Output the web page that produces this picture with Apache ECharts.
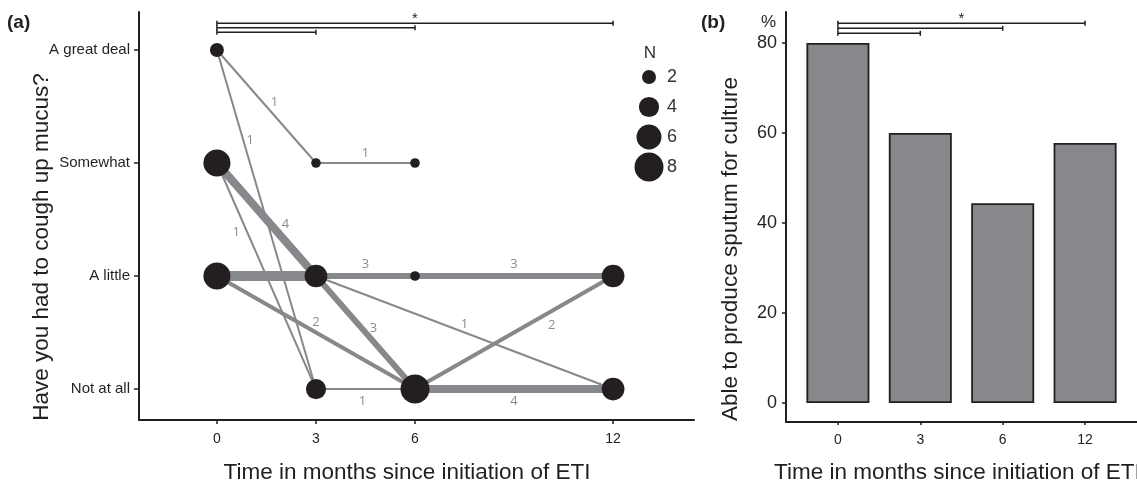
<!DOCTYPE html>
<html><head><meta charset="utf-8">
<script src="https://cdn.jsdelivr.net/npm/echarts@6/dist/echarts.min.js"></script>
<style>html,body{margin:0;padding:0;background:#fff}#c{width:1137px;height:485px}</style>
</head><body><div id="c"></div>
<script>
// ---------- DATA ----------
const levels = ['Not at all', 'A little', 'Somewhat', 'A great deal'];
const months = [0, 3, 6, 12];
// panel (a) nodes
const nodeMonth = [0, 0, 0, 3, 3, 3, 6, 6, 6, 12, 12];
const nodeLevel = ['A great deal', 'Somewhat', 'A little', 'Somewhat', 'A little', 'Not at all', 'Somewhat', 'A little', 'Not at all', 'A little', 'Not at all'];
const nodeN = [2, 7, 7, 1, 5, 4, 1, 1, 8, 5, 5];
// panel (a) transitions
const edgeFromMonth = [0, 0, 0, 0, 0, 0, 3, 3, 6, 3, 3, 6, 3, 6];
const edgeFromLevel = ['A great deal', 'A great deal', 'Somewhat', 'Somewhat', 'A little', 'A little', 'Somewhat', 'A little', 'A little', 'A little', 'A little', 'Not at all', 'Not at all', 'Not at all'];
const edgeToMonth = [3, 3, 3, 3, 3, 6, 6, 6, 12, 6, 12, 12, 6, 12];
const edgeToLevel = ['Somewhat', 'Not at all', 'A little', 'Not at all', 'A little', 'Not at all', 'Somewhat', 'A little', 'A little', 'Not at all', 'Not at all', 'A little', 'Not at all', 'Not at all'];
const edgeN = [1, 1, 4, 1, 5, 2, 1, 3, 3, 3, 1, 2, 1, 4];
const edgeLabelShown = [true, true, true, true, false, true, true, true, true, true, true, true, true, true];
// legend values
const legendN = [2, 4, 6, 8];
// panel (b)
const sputumPct = [80, 60, 44.4, 57.8];
// significance comparisons (month pairs)
const sigPairs = [[0, 12], [0, 6], [0, 3]];
const sigLabel = '*';

// ---------- STYLE ----------
const INK = '#231f20';
const GREY = '#87888b';
const LABEL_GREY = '#8d8d8d';
const FONT = 'Liberation Sans, Arial, sans-serif';
// label placement along each edge (fraction t, pixel dx, dy)
const edgeLabelT = [0.5, 0.265, 0.54, 0.305, 0.5, 0.5, 0.5, 0.5, 0.5, 0.5, 0.5, 0.69, 0.5, 0.5];
const edgeLabelDx = [8, 7, 15, -11, 0, 0, 0, 0, 0, 8, 0, 0, -3, 0];
const edgeLabelDy = [-4, 0, 0, 0, 0, -10, -10, -12, -12, -4, -8, 14, 12, 12];
const sigOffsetsA = [11.3, 15.7, 20.3];
const sigOffsetsB = [11.3, 16.3, 21.3];

function nodeSize(n) { return 10.6 * Math.sqrt(n) - 1; }
function edgeWidth(n) { return 2 * n; }
function lv(name) { return levels.indexOf(name) + 1; }

const nodeData = nodeMonth.map((m, i) => [m, lv(nodeLevel[i]), nodeN[i]]);
const edgeData = edgeFromMonth.map((m, i) => [m, lv(edgeFromLevel[i]), edgeToMonth[i], lv(edgeToLevel[i]), edgeN[i]]);
const barData = sputumPct.map((v, i) => [i, v]);
const sigDataA = sigPairs.map(p => [p[0], p[1]]);
const sigDataB = sigPairs.map(p => [months.indexOf(p[0]), months.indexOf(p[1])]);

function sigRender(offsets) {
  return function (params, api) {
    const i = params.dataIndex;
    const cs = params.coordSys;
    const y = cs.y + offsets[i];
    const x1 = api.coord([api.value(0), 0])[0];
    const x2 = api.coord([api.value(1), 0])[0];
    const st = { stroke: INK, lineWidth: 1.5 };
    const ch = [
      { type: 'line', shape: { x1: x1, y1: y, x2: x2, y2: y }, style: st },
      { type: 'line', shape: { x1: x1, y1: y - 2.5, x2: x1, y2: y + 2.5 }, style: st },
      { type: 'line', shape: { x1: x2, y1: y - 2.5, x2: x2, y2: y + 2.5 }, style: st }
    ];
    if (i === 0) {
      ch.push({ type: 'text', x: (x1 + x2) / 2, y: y + 3,
        style: { text: sigLabel, fill: INK, font: '15px ' + FONT, textAlign: 'center', textVerticalAlign: 'bottom' } });
    }
    return { type: 'group', children: ch };
  };
}

const chart = echarts.init(document.getElementById('c'), null, { renderer: 'canvas' });

const axisLineStyle = { show: true, onZero: false, lineStyle: { color: INK, width: 2 } };
const TITLE_FONT = '22.5px ' + FONT;

const graphics = [
  { type: 'text', left: 7, top: 13, style: { text: '(a)', font: 'bold 19px ' + FONT, fill: INK } },
  { type: 'text', left: 701, top: 13, style: { text: '(b)', font: 'bold 19px ' + FONT, fill: INK } },
  { type: 'text', x: 776, y: 22, style: { text: '%', font: '17px ' + FONT, fill: INK, textAlign: 'right', textVerticalAlign: 'middle' } },
  { type: 'text', x: 407, y: 473, style: { text: 'Time in months since initiation of ETI', font: TITLE_FONT, fill: INK, textAlign: 'center', textVerticalAlign: 'middle' } },
  { type: 'text', x: 774, y: 473, style: { text: 'Time in months since initiation of ETI', font: TITLE_FONT, fill: INK, textAlign: 'left', textVerticalAlign: 'middle' } },
  { type: 'text', x: 42, y: 247, rotation: Math.PI / 2, style: { text: 'Have you had to cough up mucus?', font: TITLE_FONT, fill: INK, textAlign: 'center', textVerticalAlign: 'middle' } },
  { type: 'text', x: 731, y: 249, rotation: Math.PI / 2, style: { text: 'Able to produce sputum for culture', font: TITLE_FONT, fill: INK, textAlign: 'center', textVerticalAlign: 'middle' } },
  { type: 'text', x: 650, y: 53, style: { text: 'N', font: '17px ' + FONT, fill: '#333', textAlign: 'center', textVerticalAlign: 'middle' } }
];
const legendY = [77, 107, 137, 167];
legendN.forEach((n, i) => {
  graphics.push({ type: 'circle', shape: { cx: 649, cy: legendY[i], r: nodeSize(n) / 2 }, style: { fill: INK } });
  graphics.push({ type: 'text', x: 667, y: legendY[i], style: { text: String(n), font: '18px ' + FONT, fill: '#333', textVerticalAlign: 'middle' } });
});

chart.setOption({
  animation: false,
  backgroundColor: '#fff',
  grid: [
    { left: 139, top: 12, width: 555, height: 408 },
    { left: 786, top: 12, width: 357, height: 410 }
  ],
  xAxis: [
    { type: 'value', gridIndex: 0, min: -2.36, max: 14.45, splitLine: { show: false },
      axisLine: axisLineStyle,
      axisTick: { show: true, customValues: months, length: 4, lineStyle: { color: INK, width: 1.5 } },
      axisLabel: { customValues: months, fontSize: 14, fontFamily: FONT, color: INK, margin: 12 } },
    { type: 'value', gridIndex: 1, min: -0.63, max: 3.63, splitLine: { show: false },
      axisLine: axisLineStyle,
      axisTick: { show: true, customValues: [0, 1, 2, 3], length: 3, lineStyle: { color: INK, width: 1.5 } },
      axisLabel: { customValues: [0, 1, 2, 3], formatter: v => String(months[Math.round(v)]), fontSize: 14, fontFamily: FONT, color: INK, margin: 11 } }
  ],
  yAxis: [
    { type: 'value', gridIndex: 0, min: 0.726, max: 4.336, splitLine: { show: false },
      axisLine: axisLineStyle,
      axisTick: { show: true, customValues: [1, 2, 3, 4], length: 5, lineStyle: { color: INK, width: 1.5 } },
      axisLabel: { customValues: [1, 2, 3, 4], formatter: v => levels[Math.round(v) - 1], fontSize: 15, fontFamily: FONT, color: INK, margin: 9 } },
    { type: 'value', gridIndex: 1, min: -4.2, max: 86.9, splitLine: { show: false },
      axisLine: axisLineStyle,
      axisTick: { show: true, customValues: [0, 20, 40, 60, 80], length: 4, lineStyle: { color: INK, width: 1.5 } },
      axisLabel: { customValues: [0, 20, 40, 60, 80], fontSize: 18, fontFamily: FONT, color: INK, margin: 9 } }
  ],
  series: [
    { type: 'custom', xAxisIndex: 0, yAxisIndex: 0, data: edgeData, z: 2, clip: false,
      renderItem: function (params, api) {
        const i = params.dataIndex;
        const p1 = api.coord([api.value(0), api.value(1)]);
        const p2 = api.coord([api.value(2), api.value(3)]);
        const ch = [{ type: 'line', shape: { x1: p1[0], y1: p1[1], x2: p2[0], y2: p2[1] },
          style: { stroke: GREY, lineWidth: edgeWidth(api.value(4)) } }];
        if (edgeLabelShown[i]) {
          const t = edgeLabelT[i];
          ch.push({ type: 'text', x: p1[0] + (p2[0] - p1[0]) * t + edgeLabelDx[i], y: p1[1] + (p2[1] - p1[1]) * t + edgeLabelDy[i],
            style: { text: String(api.value(4)), fill: LABEL_GREY, font: '13px Open Sans, sans-serif', textAlign: 'center', textVerticalAlign: 'middle' } });
        }
        return { type: 'group', children: ch };
      } },
    { type: 'scatter', xAxisIndex: 0, yAxisIndex: 0, data: nodeData, z: 3,
      symbolSize: v => nodeSize(v[2]), itemStyle: { color: INK, opacity: 1 } },
    { type: 'custom', xAxisIndex: 0, yAxisIndex: 0, data: sigDataA, clip: false, renderItem: sigRender(sigOffsetsA) },
    { type: 'bar', xAxisIndex: 1, yAxisIndex: 1, data: barData, barWidth: 63,
      itemStyle: { color: GREY, borderColor: INK, borderWidth: 1.8 } },
    { type: 'custom', xAxisIndex: 1, yAxisIndex: 1, data: sigDataB, clip: false, renderItem: sigRender(sigOffsetsB) }
  ],
  graphic: graphics
});
</script></body></html>
